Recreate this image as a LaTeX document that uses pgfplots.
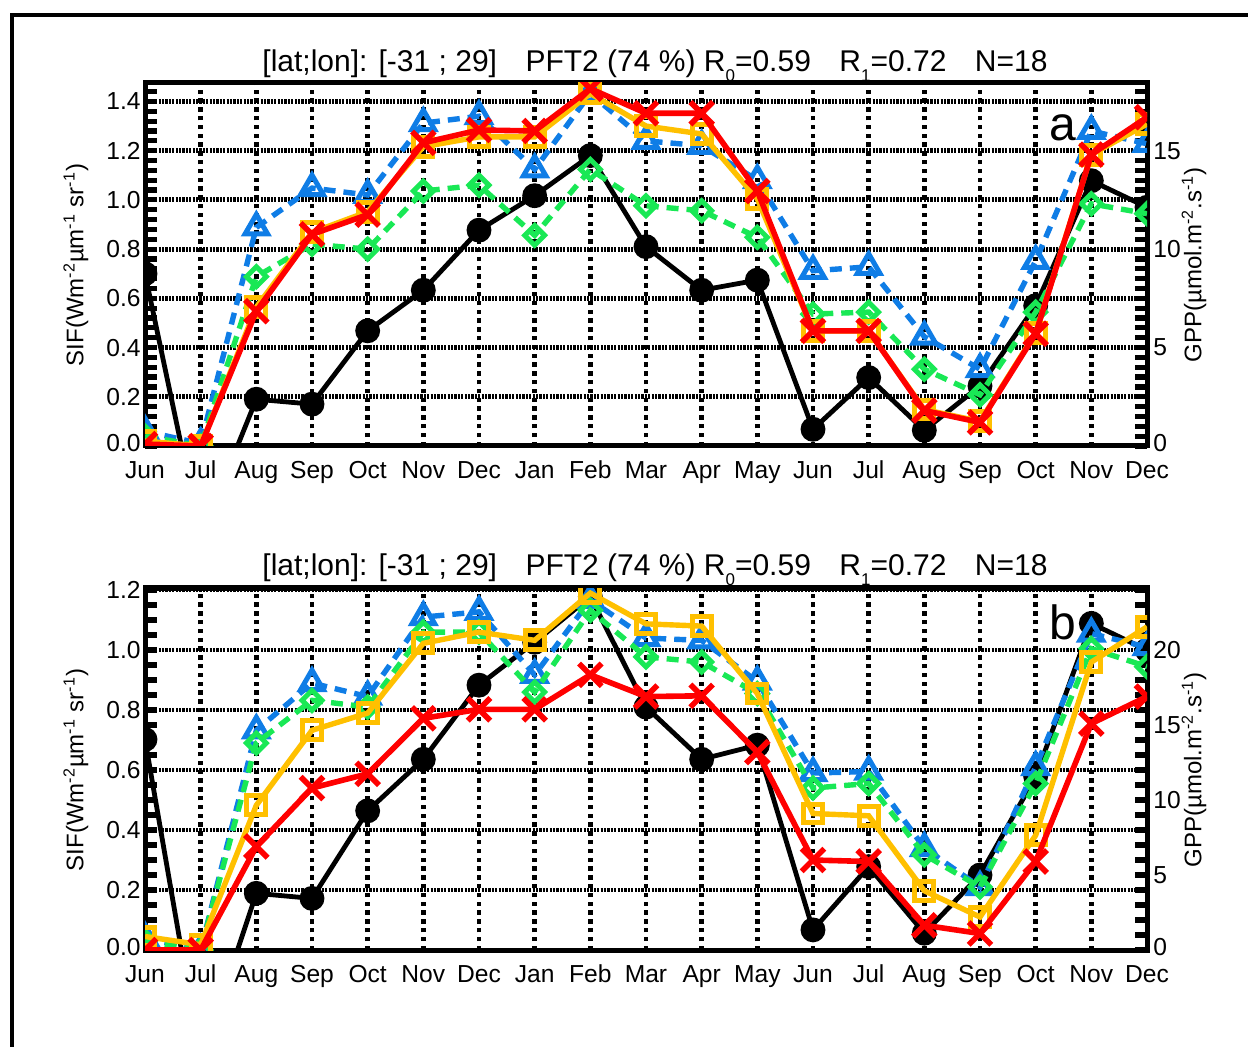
\documentclass[border=0pt]{standalone}
\usepackage{pgfplots}
\pgfplotsset{compat=1.18}
\usepackage{fontspec}
\setmainfont{Liberation Sans}
\definecolor{mblue}{RGB}{15,125,230}
\definecolor{mgreen}{RGB}{25,232,85}
\definecolor{morange}{RGB}{255,192,0}
\definecolor{mred}{RGB}{255,0,0}
\pgfplotsset{
  base/.style={
    scale only axis, width=501pt,
    xmin=0, xmax=18,
    axis line style={line width=2.5pt},
    clip marker paths=true,
    /pgf/number format/assume math mode=true,
    ticklabel style={font=\fontsize{12.3}{14}\selectfont},
  },
  sifax/.style={
    base,
    xtick={0,...,18},
    xticklabels={Jun,Jul,Aug,Sep,Oct,Nov,Dec,Jan,Feb,Mar,Apr,May,Jun,Jul,Aug,Sep,Oct,Nov,Dec},
    xmajorgrids, ymajorgrids,
    x grid style={black, line width=2.4pt, dash pattern=on 2.2pt off 2.2pt},
    y grid style={black, line width=2.4pt, dash pattern=on 1.1pt off 0.6pt},
    tick style={draw=none},
    yticklabel style={inner sep=2pt},
    xticklabel style={inner sep=3pt, yshift=-4pt, text height=9pt, text depth=2.6pt},
  },
  gppax/.style={
    base,
    xtick=\empty,
    yticklabel pos=right,
    yticklabel style={inner sep=3pt},
    major tick length=6pt, minor tick length=6pt,
    major tick style={line width=0.6pt, black},
    minor tick style={line width=2.6pt, black},
  },
  obs/.style={black, line width=2.4pt, mark=*, mark size=5pt, mark options={solid}},
  pb/.style={mblue, line width=2.7pt, dash pattern=on 6pt off 4pt, mark=triangle, mark size=6.5pt, mark options={solid, line width=2.5pt}},
  pg/.style={mgreen, line width=2.7pt, dash pattern=on 6pt off 4pt, mark=square, mark size=3.5pt, mark options={solid, rotate=45, line width=2.5pt}},
  po/.style={morange, line width=2.7pt, mark=square, mark size=4.7pt, mark options={solid, line width=2.5pt}},
  pr/.style={mred, line width=2.8pt, mark=x, mark size=8pt, mark options={solid, line width=2.8pt}},
}
\newcommand{\zr}[1]{\raisebox{3.5pt}{#1}}
\begin{document}
\begin{tikzpicture}
\useasboundingbox (0,0) rectangle (624pt,-523.5pt);
\draw[line width=2pt] (6pt,-530pt) -- (6pt,-7.5pt) -- (630pt,-7.5pt);

% ---------------- Panel a ----------------
\begin{axis}[sifax, height=181.5pt, at={(72.5pt,-223pt)}, anchor=south west,
  ymin=0, ymax=1.475, ytick={0,0.2,0.4,0.6,0.8,1.0,1.2,1.4},
  yticklabels={\zr{0.0},0.2,0.4,0.6,0.8,1.0,1.2,1.4}]
\addplot[obs] coordinates {(0,0.70)(1,-0.37)(2,0.19)(3,0.17)(4,0.468)(5,0.633)(6,0.877)(7,1.017)(8,1.18)(9,0.81)(10,0.633)(11,0.674)(12,0.068)(13,0.278)(14,0.064)(15,0.244)(16,0.57)(17,1.078)(18,0.97)};
\end{axis}
\begin{axis}[gppax, height=181.5pt, at={(72.5pt,-223pt)}, anchor=south west,
  ymin=0, ymax=18.4375, ytick={0,5,10,15}, yticklabels={\zr{0},5,10,15}, minor ytick={0,0.5,...,18.4}]
\addplot[pb] coordinates {(0,0.75)(1,0.125)(2,11.1)(3,13.1)(4,12.75)(5,16.4)(6,16.75)(7,14.05)(8,17.9)(9,15.5)(10,15.25)(11,13.5)(12,8.9)(13,9.1)(14,5.55)(15,3.9)(16,9.4)(17,16.0)(18,15.35)};
\addplot[pg] coordinates {(0,0.5)(1,0.0)(2,8.6)(3,10.25)(4,10.0)(5,12.95)(6,13.25)(7,10.7)(8,14.05)(9,12.2)(10,11.95)(11,10.6)(12,6.7)(13,6.8)(14,3.9)(15,2.6)(16,6.8)(17,12.3)(18,11.8)};
\addplot[po] coordinates {(0,0.25)(1,0.0)(2,7.05)(3,10.85)(4,11.9)(5,15.2)(6,15.7)(7,15.7)(8,17.9)(9,16.25)(10,15.85)(11,12.55)(12,5.85)(13,5.85)(14,1.85)(15,1.25)(16,5.75)(17,14.8)(18,16.35)};
\addplot[pr] coordinates {(0,0.1)(1,0.0)(2,6.85)(3,10.75)(4,11.75)(5,15.4)(6,16.05)(7,16.0)(8,18.15)(9,16.9)(10,16.9)(11,12.95)(12,5.85)(13,5.85)(14,1.8)(15,1.2)(16,5.7)(17,14.8)(18,16.7)};
\end{axis}

% ---------------- Panel b ----------------
\begin{axis}[sifax, height=181pt, at={(72.5pt,-475pt)}, anchor=south west,
  ymin=0, ymax=1.207, ytick={0,0.2,0.4,0.6,0.8,1.0,1.2},
  yticklabels={\zr{0.0},0.2,0.4,0.6,0.8,1.0,1.2}]
\addplot[obs] coordinates {(0,0.702)(1,-0.37)(2,0.189)(3,0.172)(4,0.464)(5,0.636)(6,0.883)(7,1.026)(8,1.178)(9,0.81)(10,0.636)(11,0.683)(12,0.067)(13,0.278)(14,0.056)(15,0.25)(16,0.578)(17,1.089)(18,1.0)};
\end{axis}
\begin{axis}[gppax, height=181pt, at={(72.5pt,-475pt)}, anchor=south west,
  ymin=0, ymax=24.14, ytick={0,5,10,15,20}, yticklabels={\zr{0},5,10,15,20}, minor ytick={0,1,...,24}]
\addplot[pb] coordinates {(0,0.8)(1,0.0)(2,14.65)(3,17.8)(4,16.9)(5,22.2)(6,22.55)(7,18.35)(8,23.35)(9,20.8)(10,20.65)(11,17.9)(12,11.8)(13,11.9)(14,6.8)(15,4.2)(16,12.2)(17,21.1)(18,20.2)};
\addplot[pg] coordinates {(0,0.6)(1,0.0)(2,13.8)(3,16.65)(4,16.2)(5,21.2)(6,21.2)(7,17.2)(8,22.65)(9,19.55)(10,19.2)(11,17.1)(12,10.8)(13,11.1)(14,6.35)(15,4.2)(16,11.1)(17,20.1)(18,18.9)};
\addplot[po] coordinates {(0,0.9)(1,0.35)(2,9.65)(3,14.65)(4,15.8)(5,20.45)(6,21.2)(7,20.65)(8,23.8)(9,21.75)(10,21.6)(11,17.1)(12,9.1)(13,8.95)(14,3.95)(15,2.2)(16,7.65)(17,19.2)(18,21.55)};
\addplot[pr] coordinates {(0,0.0)(1,0.0)(2,6.9)(3,10.8)(4,11.75)(5,15.45)(6,16.05)(7,16.05)(8,18.35)(9,16.9)(10,16.95)(11,13.2)(12,6.0)(13,5.9)(14,1.65)(15,1.1)(16,5.9)(17,15.1)(18,16.9)};
\end{axis}

% ---------------- Texts ----------------
\newcommand{\ttl}{[lat;lon]: [-31 ; 29]\hspace{0.95em}PFT2 (74 \%) R\raisebox{-0.32em}{\fontsize{8.5}{9}\selectfont 0}=0.59\hspace{0.95em}R\raisebox{-0.32em}{\fontsize{8.5}{9}\selectfont 1}=0.72\hspace{0.95em}N=18}
\node[anchor=base, inner sep=0pt, font=\fontsize{15}{17}\selectfont] at (327.5pt,-36pt) {\ttl};
\node[anchor=base, inner sep=0pt, font=\fontsize{15}{17}\selectfont] at (327.5pt,-288pt) {\ttl};
\node[anchor=base, inner sep=0pt, font=\fontsize{24}{28}\selectfont] at (531.5pt,-70.5pt) {a};
\node[anchor=base, inner sep=0pt, font=\fontsize{24}{28}\selectfont] at (531.5pt,-320pt) {b};
\node[rotate=90, inner sep=0pt, font=\fontsize{12}{14}\selectfont] at (38pt,-132.5pt) {SIF(Wm\textsuperscript{-2}µm\textsuperscript{-1} sr\textsuperscript{-1})};
\node[rotate=90, inner sep=0pt, font=\fontsize{12}{14}\selectfont] at (38pt,-385pt) {SIF(Wm\textsuperscript{-2}µm\textsuperscript{-1} sr\textsuperscript{-1})};
\node[rotate=90, inner sep=0pt, font=\fontsize{12}{14}\selectfont] at (597pt,-132.5pt) {GPP(µmol.m\textsuperscript{-2}.s\textsuperscript{-1})};
\node[rotate=90, inner sep=0pt, font=\fontsize{12}{14}\selectfont] at (597pt,-385pt) {GPP(µmol.m\textsuperscript{-2}.s\textsuperscript{-1})};
\end{tikzpicture}
\end{document}
